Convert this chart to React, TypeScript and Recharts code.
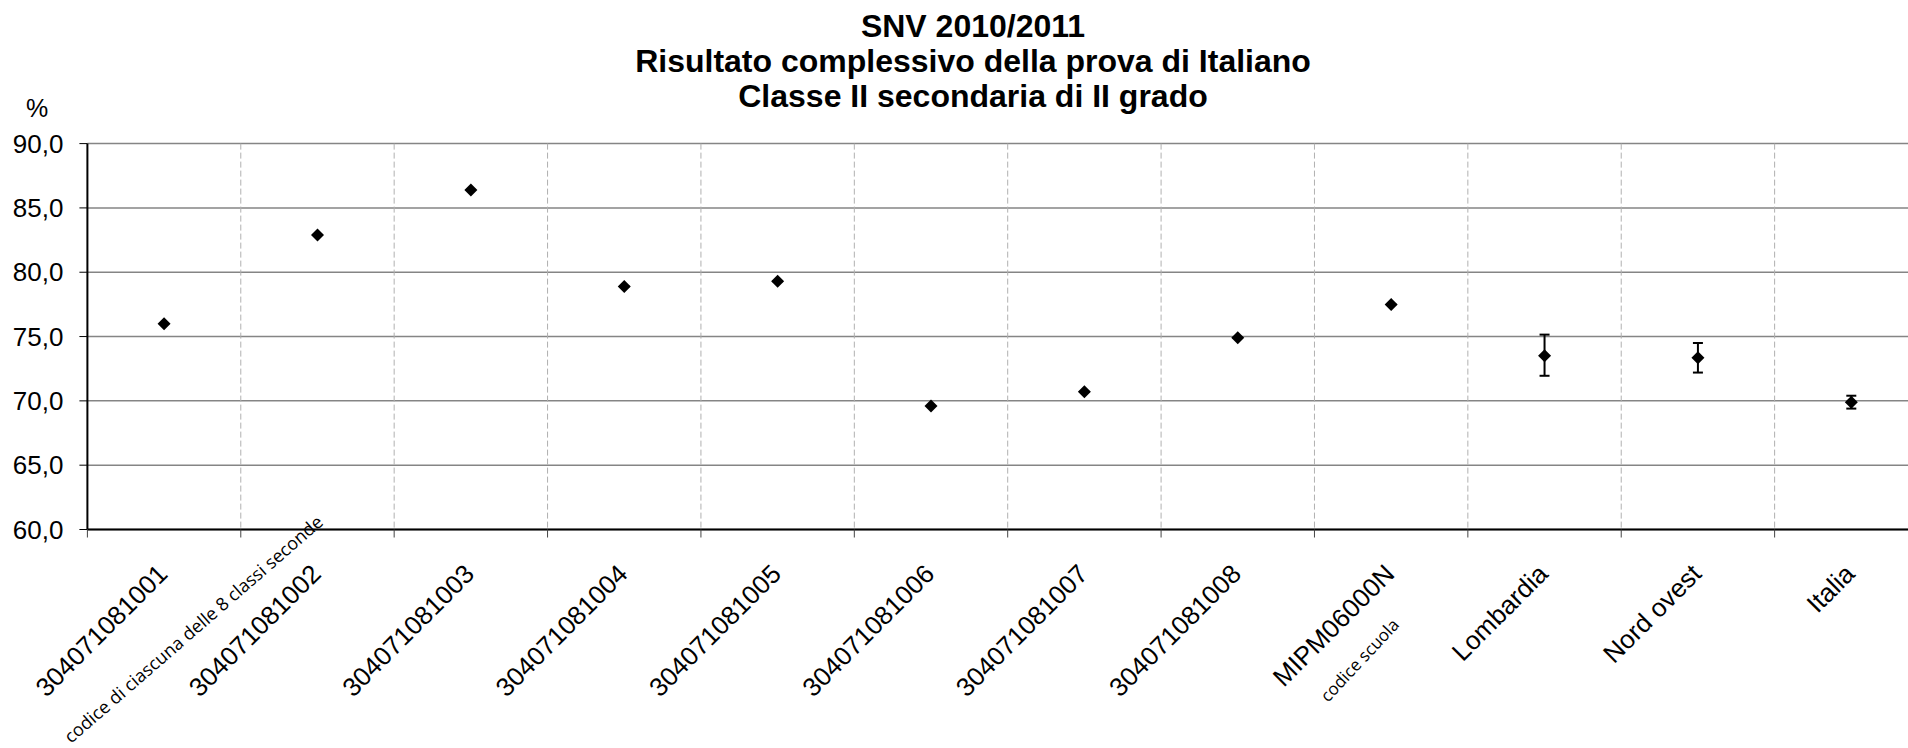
import {
  ComposedChart, Scatter, XAxis, YAxis, CartesianGrid, ErrorBar, Customized,
} from "recharts"

const categories = [
  "304071081001", "304071081002", "304071081003", "304071081004",
  "304071081005", "304071081006", "304071081007", "304071081008",
  "MIPM06000N", "Lombardia", "Nord ovest", "Italia",
]

// mean score (%) per class / school / area
const scores = [76.0, 82.9, 86.4, 78.9, 79.3, 69.6, 70.7, 74.9, 77.5, 73.5, 73.35, 69.9]

// [below, above] confidence interval, only for the reference areas
const errors: Array<[number, number] | null> = [
  null, null, null, null, null, null, null, null, null,
  [1.55, 1.65], [1.15, 1.15], [0.5, 0.5],
]

const yTicks = [60, 65, 70, 75, 80, 85, 90]

const titleLines = [
  "SNV 2010/2011",
  "Risultato complessivo della prova di Italiano",
  "Classe II secondaria di II grado",
]

const data = categories.map((name, i) => ({
  name,
  score: scores[i],
  err: errors[i] ?? [0, 0],
}))

const FONT = "'Liberation Sans', Arial, sans-serif"
const NOTE_FONT = "'Open Sans', sans-serif"

function Diamond(props: any) {
  const { cx, cy } = props
  if (cx == null || cy == null) return null
  return <path d={`M${cx},${cy - 6.5}L${cx + 6.5},${cy}L${cx},${cy + 6.5}L${cx - 6.5},${cy}Z`} fill="#000" />
}

function XTick(props: any) {
  const { x, y, payload } = props
  const half = payload?.offset || 76.7
  const tx = x + 5
  const ty = y + 46
  return (
    <g>
      <line x1={x - half} y1={y} x2={x - half} y2={y + 8} stroke="#444" strokeWidth={1} />
      <text
        x={tx}
        y={ty}
        transform={`rotate(-45, ${tx}, ${ty})`}
        textAnchor="end"
        fontSize={26}
        fontFamily={FONT}
        fill="#000"
      >
        {payload.value}
      </text>
    </g>
  )
}

function Annotations() {
  return (
    <g>
      {titleLines.map((line, i) => (
        <text key={line} x={973} y={37 + i * 35} textAnchor="middle" fontSize={32}
          fontWeight="bold" fontFamily={FONT} fill="#000">
          {line}
        </text>
      ))}
      <text x={37} y={117} textAnchor="middle" fontSize={25} fontFamily={FONT} fill="#000">%</text>
      <text x={71} y={744} transform="rotate(-41, 71, 744)" fontSize={18}
        fontFamily={NOTE_FONT} fill="#000">
        codice di ciascuna delle 8 classi seconde
      </text>
      <text x={1328} y={703} transform="rotate(-47, 1328, 703)" fontSize={17}
        fontFamily={NOTE_FONT} fill="#000">
        codice scuola
      </text>
    </g>
  )
}

export default function App() {
  return (
    <div style={{
      position: "fixed", left: 0, top: 0, width: 1908, height: 748,
      overflow: "hidden", background: "#fff",
    }}>
      <ComposedChart
        width={1930}
        height={748}
        data={data}
        margin={{ top: 143.6, right: 2, bottom: 0, left: 0 }}
      >
        <CartesianGrid vertical={false} stroke="#858585" strokeWidth={1.5} />
        <CartesianGrid
          horizontal={false}
          stroke="#b0b0b0"
          strokeDasharray="6 3"
          verticalCoordinatesGenerator={({ offset }: any) =>
            categories.map((_, i) => offset.left + ((i + 1) * offset.width) / categories.length)
          }
        />
        <XAxis
          dataKey="name"
          type="category"
          scale="band"
          interval={0}
          tickLine={false}
          tickSize={0}
          tickMargin={0}
          height={218.5}
          axisLine={{ stroke: "#000", strokeWidth: 2 }}
          tick={<XTick />}
        />
        <YAxis
          type="number"
          domain={[60, 90]}
          ticks={yTicks}
          interval={0}
          allowDataOverflow
          width={87.4}
          tickSize={8}
          tickMargin={16}
          axisLine={{ stroke: "#000", strokeWidth: 2 }}
          tickLine={{ stroke: "#000" }}
          tick={{ fontSize: 26, fill: "#000", fontFamily: FONT }}
          tickFormatter={(v: number) => v.toFixed(1).replace(".", ",")}
        />
        <Scatter dataKey="score" shape={<Diamond />} isAnimationActive={false}>
          <ErrorBar dataKey="err" direction="y" width={5} stroke="#000" strokeWidth={2} />
        </Scatter>
        <Customized component={Annotations} />
      </ComposedChart>
    </div>
  )
}
